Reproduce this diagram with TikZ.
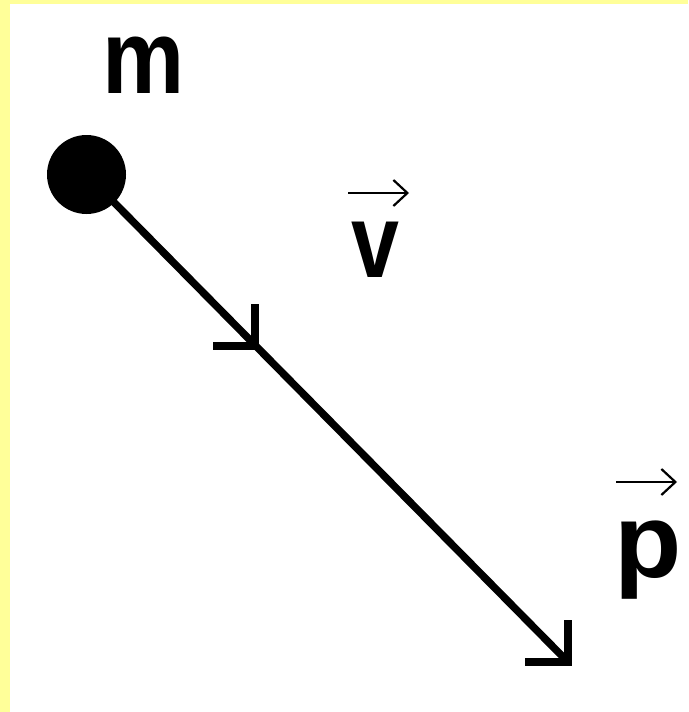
\documentclass[tikz,border=0pt]{standalone}
\usepackage{fontspec}
\setmainfont{Liberation Sans}
\usetikzlibrary{arrows.meta}
\definecolor{paleyellow}{HTML}{FFFF99}
\tikzset{
  lbl/.style={font=\bfseries\fontsize{105}{105}\selectfont, inner sep=0pt, anchor=base},
  vecarrow/.style={line width=2.2pt, -{Straight Barb[length=14pt,width=26pt,line width=2.2pt]}},
  stroke/.style={line width=7.5pt, line join=miter, line cap=butt},
}
\begin{document}
\begin{tikzpicture}[x=1pt,y=-1pt]
  \useasboundingbox (0,0) rectangle (688,712);
  \fill[white] (0,0) rectangle (688,712);
  \fill[paleyellow] (0,0) rectangle (688,4);
  \fill[paleyellow] (0,0) rectangle (10,712);
  % mass
  \node[circle, fill=black, minimum size=79pt, inner sep=0pt] (mass) at (86.5,174.5) {};
  \coordinate (mid) at (255,346);
  \coordinate (tip) at (568,662);
  \draw[stroke] (mass.center) -- (tip);
  \draw[stroke] (mid) ++(0,-42) -- (mid) -- ++(-42,0);
  \draw[stroke] (tip) ++(0,-42) -- (tip) -- ++(-43,0);
  % labels
  \node[lbl, xscale=0.88] (m) at (144,93) {m};
  \node[lbl, xscale=0.82] (v) at (375,277) {v};
  \node[lbl, xscale=1.05] (p) at (648,577) {p};
  \coordinate (va) at (348,193);
  \coordinate (vb) at (409,193);
  \draw[vecarrow] (va) -- (vb);
  \coordinate (pa) at (616,482);
  \coordinate (pb) at (677,482);
  \draw[vecarrow] (pa) -- (pb);
\end{tikzpicture}
\end{document}
